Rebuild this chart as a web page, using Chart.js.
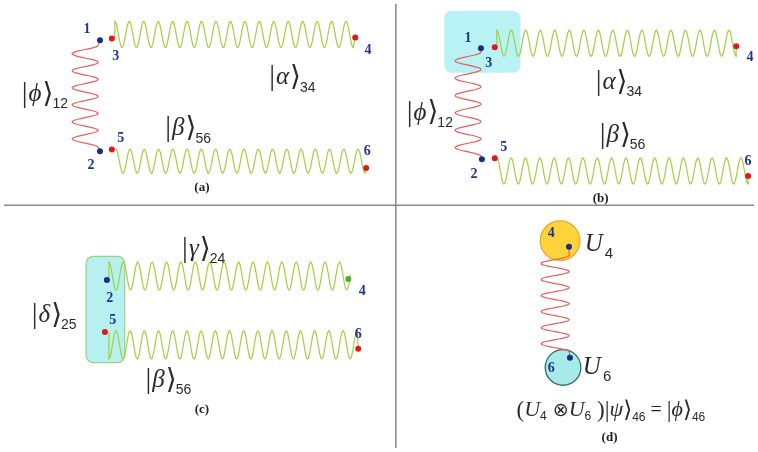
<!DOCTYPE html>
<html>
<head>
<meta charset="utf-8">
<script src="https://cdn.jsdelivr.net/npm/chart.js@4"></script>
<style>
  html, body { margin: 0; padding: 0; background: #fff; }
  canvas { display: block; }
</style>
</head>
<body>
<canvas id="diagram" width="758" height="452"></canvas>
<script>
// node dots (x, y in picture units)
const blueDots = [[97, 37], [97, 150], [482, 45], [483, 158], [104, 281], [571, 247], [572, 360]];
const redDots = [[109, 35], [355, 34], [109, 148], [366, 167], [496, 44], [740, 43], [496, 157], [752, 175], [102, 334], [358, 351]];
const greenDots = [[348, 280]];

// springs: lead-in point, coil axis start, coil axis end, lead-out point, coils, amplitude
const springStart = [[97, 37], [112, 35], [113, 148], [482, 45], [498, 44], [498, 157], [106, 281], [106, 334], [571, 247]];
const springAxisA = [[82, 42], [112, 31], [113, 160], [469, 49], [498, 40], [498, 170], [106, 277], [106, 347], [557, 256]];
const springAxisB = [[82, 146], [353, 31], [365, 160], [469, 155], [740, 40], [752, 170], [350, 277], [357, 347], [557, 354]];
const springEnd = [[97, 150], [355, 34], [366, 167], [483, 158], [740, 43], [752, 175], [348, 280], [358, 351], [572, 360]];
const springCoils = [6, 16.5, 17.5, 6, 16.5, 17.5, 16.75, 17.5, 6];
const springAmp = [-13, -13, -12, -13, -13, -13, -14, 14, -14];
const springColor = ['#e8605a', '#a2d040', '#a2d040', '#e8605a', '#a2d040', '#a2d040', '#a2d040', '#a2d040', '#e8605a'];

// highlighted regions
const boxes = [[445, 7, 522, 70], [83, 257, 122, 365]];
const circles = [[562, 241, 20], [565, 370, 18]];

// panel dividers
const hLine = [[0, 205], [758, 205]];
const vLine = [[396, 0], [396, 452]];

// node numbers
const numText = ['1', '3', '4', '2', '5', '6', '1', '3', '4', '2', '5', '6', '2', '4', '5', '6', '4', '6'];
const numPos = [[84, 26], [113, 53], [368, 47], [88, 164], [118, 137], [367, 150],
  [469, 35], [490, 60], [754, 54], [475, 173], [505, 146], [752, 160],
  [107, 300], [362, 293], [110, 322], [358, 336], [553, 234], [553, 371]];

// kets
const ketSym = ['ϕ', 'α', 'β', 'ϕ', 'α', 'β', 'γ', 'δ', 'β'];
const ketSub = ['12', '34', '56', '12', '34', '56', '24', '25', '56'];
const ketPos = [[18, 92], [268, 75], [163, 127], [407, 111], [598, 80], [602, 134], [180, 250], [28, 317], [143, 383]];

const captions = ['(a)', '(b)', '(c)', '(d)'];
const captionPos = [[200, 187], [603, 198], [200, 413], [612, 441]];

const pts = a => a.map(p => ({ x: p[0], y: p[1] }));
const SERIF = '"Liberation Serif", "DejaVu Serif", serif';

function drawKet(ctx, x, yc, sym, sub) {
  ctx.fillStyle = '#2a2a2a';
  ctx.textBaseline = 'middle';
  ctx.textAlign = 'left';
  ctx.font = '29px ' + SERIF;
  ctx.fillText('|', x, yc);
  x += ctx.measureText('|').width + 1;
  ctx.font = 'italic 25px ' + SERIF;
  ctx.fillText(sym, x, yc);
  x += ctx.measureText(sym).width + 1;
  ctx.font = '28px "DejaVu Serif", serif';
  ctx.fillText('⟩', x, yc);
  x += ctx.measureText('⟩').width;
  ctx.font = '14px "Liberation Sans", sans-serif';
  ctx.fillText(sub, x - 1, yc + 10);
}

const diagramPlugin = {
  id: 'diagram',
  beforeDatasetsDraw(chart) {
    const { ctx, scales: { x, y } } = chart;
    const px = p => [x.getPixelForValue(p[0]), y.getPixelForValue(p[1])];
    ctx.save();
    // boxes
    boxes.forEach((b, i) => {
      const [x1, y1] = px([b[0], b[1]]);
      const [x2, y2] = px([b[2], b[3]]);
      ctx.beginPath();
      ctx.roundRect(x1, y1, x2 - x1, y2 - y1, 7);
      ctx.fillStyle = i === 0 ? 'rgba(160,238,240,0.75)' : 'rgba(165,236,236,0.8)';
      ctx.fill();
      if (i === 1) { ctx.strokeStyle = '#9ad27a'; ctx.lineWidth = 1.2; ctx.stroke(); }
    });
    // circles
    circles.forEach((c, i) => {
      const [cx, cy] = px(c);
      const r = x.getPixelForValue(c[2]) - x.getPixelForValue(0);
      ctx.beginPath();
      ctx.arc(cx, cy, r, 0, Math.PI * 2);
      ctx.fillStyle = i === 0 ? '#ffd43a' : '#a6eaea';
      ctx.fill();
      ctx.strokeStyle = i === 0 ? '#f2a524' : '#2f6e66';
      ctx.lineWidth = 1.3;
      ctx.stroke();
    });
    // springs
    springStart.forEach((s, i) => {
      const a = px(springAxisA[i]), b = px(springAxisB[i]);
      const dx = b[0] - a[0], dy = b[1] - a[1];
      const len = Math.hypot(dx, dy);
      const nx = -dy / len, ny = dx / len;
      const amp = springAmp[i], n = springCoils[i];
      ctx.beginPath();
      const p0 = px(s);
      ctx.moveTo(p0[0], p0[1]);
      const steps = Math.ceil(n * 24);
      for (let k = 0; k <= steps; k++) {
        const t = k / steps;
        const o = amp * Math.cos(2 * Math.PI * n * t);
        ctx.lineTo(a[0] + dx * t + nx * o, a[1] + dy * t + ny * o);
      }
      const p1 = px(springEnd[i]);
      ctx.lineTo(p1[0], p1[1]);
      ctx.strokeStyle = springColor[i];
      ctx.lineWidth = 1.2;
      ctx.stroke();
    });
    ctx.restore();
  },
  afterDatasetsDraw(chart) {
    const { ctx, scales: { x, y } } = chart;
    const px = p => [x.getPixelForValue(p[0]), y.getPixelForValue(p[1])];
    ctx.save();
    ctx.textAlign = 'center';
    ctx.textBaseline = 'middle';
    ctx.fillStyle = '#1f3490';
    ctx.font = 'bold 14px ' + SERIF;
    numText.forEach((t, i) => {
      const [a, b] = px(numPos[i]);
      ctx.fillText(t, a, b);
    });
    ketSym.forEach((s, i) => {
      const [a, b] = px(ketPos[i]);
      drawKet(ctx, a, b, s, ketSub[i]);
    });
    ctx.fillStyle = '#222';
    ctx.font = 'bold 13px ' + SERIF;
    ctx.textAlign = 'center';
    captions.forEach((c, i) => {
      const [a, b] = px(captionPos[i]);
      ctx.fillText(c, a, b);
    });
    // U4, U6
    ctx.textAlign = 'left';
    ctx.fillStyle = '#2a2a2a';
    [['4', [587, 245]], ['6', [585, 370]]].forEach(([s, p]) => {
      const [a, b] = px(p);
      ctx.font = 'italic 25px ' + SERIF;
      ctx.fillText('U', a, b);
      const w = ctx.measureText('U').width;
      ctx.font = '15px "Liberation Sans", sans-serif';
      ctx.fillText(s, a + w + 2, b + 9);
    });
    // equation
    let [ex, ey] = px([518, 414]);
    const put = (t, font, dy) => {
      ctx.font = font;
      ctx.fillText(t, ex, ey + (dy || 0));
      ex += ctx.measureText(t).width;
    };
    put('(', '23px ' + SERIF);
    put('U', 'italic 22px ' + SERIF);
    put('4', '12px "Liberation Sans", sans-serif', 6);
    put(' ⊗', '19px "DejaVu Sans", sans-serif');
    put('U', 'italic 22px ' + SERIF);
    put('6', '12px "Liberation Sans", sans-serif', 6);
    put(' )', '23px ' + SERIF);
    put('|', '24px ' + SERIF);
    put('ψ', 'italic 22px ' + SERIF);
    put('⟩', '23px "DejaVu Serif", serif');
    put('46', '12px "Liberation Sans", sans-serif', 7);
    put(' = ', '20px ' + SERIF);
    put('|', '24px ' + SERIF);
    put('ϕ', 'italic 22px ' + SERIF);
    put('⟩', '23px "DejaVu Serif", serif');
    put('46', '12px "Liberation Sans", sans-serif', 7);
    ctx.restore();
  }
};

const dotStyle = (data, color) => ({
  type: 'scatter', data: pts(data), pointRadius: 3, pointBorderWidth: 0,
  backgroundColor: color, borderColor: color
});
const lineStyle = data => ({
  type: 'line', data: pts(data), borderColor: '#8a8a8a', borderWidth: 1.5,
  pointRadius: 0, fill: false
});

new Chart(document.getElementById('diagram').getContext('2d'), {
  type: 'scatter',
  data: {
    datasets: [
      lineStyle(hLine),
      lineStyle(vLine),
      dotStyle(blueDots, '#1c2c86'),
      dotStyle(redDots, '#e01818'),
      dotStyle(greenDots, '#4cb028')
    ]
  },
  options: {
    responsive: false,
    devicePixelRatio: 1,
    animation: false,
    layout: { padding: 0 },
    plugins: { legend: { display: false }, tooltip: { enabled: false } },
    scales: {
      x: { type: 'linear', min: 0, max: 758, display: false },
      y: { type: 'linear', min: 0, max: 452, reverse: true, display: false }
    }
  },
  plugins: [diagramPlugin]
});
</script>
</body>
</html>
